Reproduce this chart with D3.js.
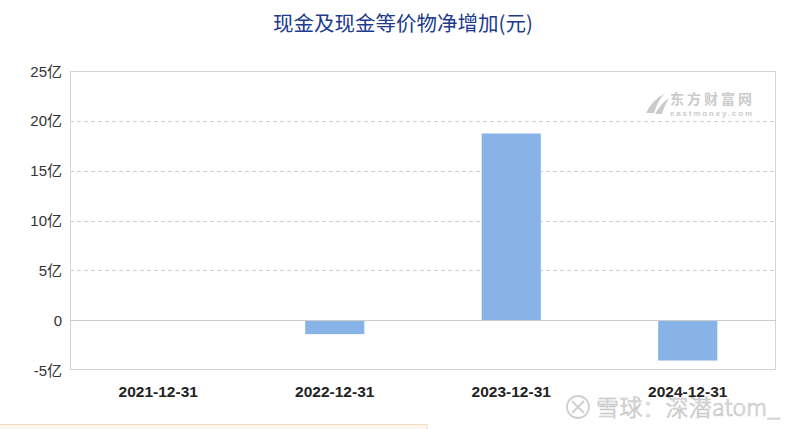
<!DOCTYPE html>
<html><head><meta charset="utf-8">
<script src="https://cdn.jsdelivr.net/npm/d3@7/dist/d3.min.js"></script>
<style>
html,body{margin:0;padding:0;background:#fff;}
svg{display:block;}
</style></head>
<body>
<svg id="chart" width="800" height="429"></svg>
<script>
const title = "现金及现金等价物净增加(元)";
const categories = ["2021-12-31", "2022-12-31", "2023-12-31", "2024-12-31"];
const values = [0, -1.4, 18.73, -4.05]; // 亿元
const yTicks = [-5, 0, 5, 10, 15, 20, 25];
const yTickLabels = ["-5亿", "0", "5亿", "10亿", "15亿", "20亿", "25亿"];

const W = 800, H = 429;
const m = {left: 70, right: 24, top: 71, bottom: 59};
const svg = d3.select("#chart");
const cjk = "'Noto Sans CJK SC', 'Noto Sans', sans-serif";
const latin = "'Liberation Sans', Arial, 'Noto Sans CJK SC', sans-serif";

const x = d3.scaleBand().domain(categories).range([m.left, W - m.right]).paddingInner(0.665).paddingOuter(0.3325);
const y = d3.scaleLinear().domain([-5, 25]).range([H - m.bottom, m.top]);

// title
svg.append("text").attr("x", 403).attr("y", 31).attr("text-anchor", "middle")
  .attr("font-family", cjk).attr("font-size", 20.5).attr("fill", "#203a8c").text(title);

// gridlines
const grid = svg.append("g");
grid.selectAll("line").data(yTicks.filter(t => t !== -5 && t !== 0 && t !== 25)).join("line")
  .attr("x1", m.left).attr("x2", W - m.right)
  .attr("y1", d => Math.round(y(d)) + 0.5).attr("y2", d => Math.round(y(d)) + 0.5)
  .attr("stroke", "#cfcfcf").attr("stroke-dasharray", "4,3");

// watermark eastmoney
const wm = svg.append("g").attr("fill", "#cbcbcb");
wm.append("path").attr("d", "M646,113 C650,105 656,98 664,94 C659,100 656,106 654,113 Z M655,114 C659,107 663,102 669,98 C666,104 663,109 662,114 Z");
wm.append("text").attr("x", 670).attr("y", 104).attr("font-family", cjk).attr("font-weight", "bold")
  .attr("font-size", 14).attr("textLength", 82).text("东方财富网");
wm.append("text").attr("x", 670).attr("y", 116).attr("font-family", latin).attr("font-weight", "bold")
  .attr("font-size", 8).attr("textLength", 82).text("eastmoney.com");

// frame
const fr = svg.append("g").attr("fill", "none").attr("stroke", "#d4d4d4");
fr.append("rect").attr("x", m.left + 0.5).attr("y", m.top + 0.5)
  .attr("width", W - m.left - m.right - 1).attr("height", H - m.top - m.bottom - 1);

// bars
svg.append("g").selectAll("rect").data(categories.map((c, i) => ({c, v: values[i]}))).join("rect")
  .attr("x", d => x(d.c)).attr("width", x.bandwidth())
  .attr("y", d => y(Math.max(0, d.v))).attr("height", d => Math.abs(y(d.v) - y(0)))
  .attr("fill", "#88b3e6");

// zero line
svg.append("line").attr("x1", m.left).attr("x2", W - m.right)
  .attr("y1", Math.round(y(0)) + 0.5).attr("y2", Math.round(y(0)) + 0.5).attr("stroke", "#cccccc");

// y tick labels
svg.append("g").selectAll("text").data(yTicks).join("text")
  .attr("x", 62).attr("y", d => y(d) + 5.5).attr("text-anchor", "end")
  .attr("font-family", latin).attr("font-size", 15).attr("fill", "#333")
  .text((d, i) => yTickLabels[i]);

// bottom decorative bar
svg.append("rect").attr("x", -1).attr("y", 424.5).attr("width", 428).attr("height", 8)
  .attr("fill", "#fdf7ee").attr("stroke", "#f2dcc2");

// watermark xueqiu
const xq = svg.append("g");
xq.append("circle").attr("cx", 578).attr("cy", 407).attr("r", 11).attr("fill", "none").attr("stroke", "#cfcfcf").attr("stroke-width", 1.8);
xq.append("path").attr("d", "M572,401 L584,413 M584,401 L572,413").attr("stroke", "#cfcfcf").attr("stroke-width", 1.8).attr("fill", "none");
xq.append("text").attr("x", 596).attr("y", 416).attr("font-family", cjk).attr("font-size", 23).attr("font-weight", 300)
  .attr("fill", "#eeeeee").attr("stroke", "#c4c4c4").attr("stroke-width", 0.7).attr("textLength", 184).text("雪球：深潜atom_");

// x labels
svg.append("g").selectAll("text").data(categories).join("text")
  .attr("x", d => x(d) + x.bandwidth() / 2).attr("y", 397).attr("text-anchor", "middle")
  .attr("font-family", latin).attr("font-weight", "bold").attr("font-size", 15.5).attr("fill", "#222")
  .text(d => d);
</script>
</body></html>
